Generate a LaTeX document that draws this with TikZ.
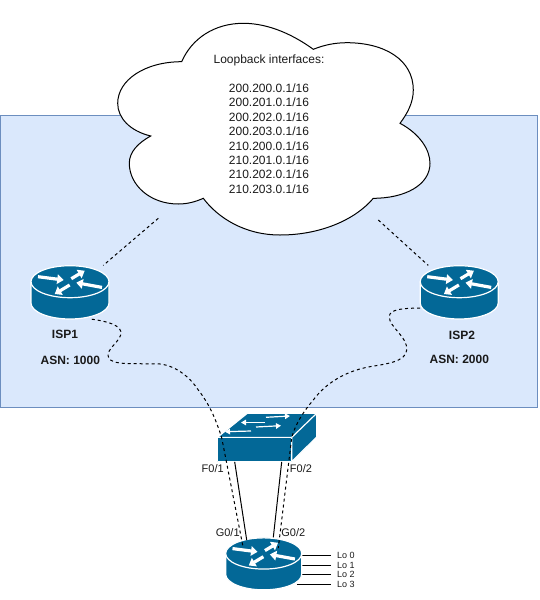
\documentclass[tikz,border=0pt]{standalone}
\usepackage{fontspec}
\setmainfont{Liberation Sans}
\usetikzlibrary{arrows.meta,calc}
\definecolor{Panel}{HTML}{DAE8FC}
\definecolor{PanelLine}{HTML}{6C8EBF}
\definecolor{Device}{HTML}{036897}
\definecolor{Ink}{HTML}{1A1A1A}

\begin{document}
\begin{tikzpicture}[x=1pt,y=-1pt,
      devbody/.style={fill=Device,draw=white,line width=1.2pt,line join=round},
      devarrow/.style={draw=white,line width=3.2pt,-{Triangle[length=6.5pt,width=9.5pt]}},
      thinarrow/.style={draw=white,line width=1.2pt,-{Triangle[length=5pt,width=5.5pt]}},
      routerbox/.style={minimum width=78pt,minimum height=53.4pt,inner sep=0pt},
      switchbox/.style={minimum width=99.4pt,minimum height=48.4pt,inner sep=0pt},
      link/.style={draw=black,line width=1pt,dash pattern=on 3pt off 3pt},
      isplabel/.style={font=\fontsize{12}{14}\selectfont\bfseries,text=Ink,inner sep=0pt},
      portlabel/.style={font=\fontsize{11}{13}\selectfont,text=Ink,inner sep=0pt},
      lolabel/.style={font=\fontsize{9}{11}\selectfont,text=Ink,inner sep=0pt,anchor=west},
      routerpic/.pic={
        \draw[devbody] (-39,-10.6) -- (-39,10.7) .. controls (-39,19.5) and (-21.5,26.7) .. (0,26.7)
          .. controls (21.5,26.7) and (39,19.5) .. (39,10.7) -- (39,-10.6) -- cycle;
        \draw[devbody] (0,-10.6) ellipse [x radius=39,y radius=16];
        \draw[devarrow] (-32,-15.6) -- (-6.3,-12.3);
        \draw[devarrow] (-0.3,-7.3) -- (-15.3,1.7);
        \draw[devarrow] (1.3,-13.6) -- (14.7,-21.6);
        \draw[devarrow] (32,-4.9) -- (6.3,-9.6);
      },
      switchpic/.pic={
        \draw[devbody] (-49.7,-0.1) -- (-19.7,-24.2) -- (49.7,-24.2) -- (49.7,-0.5) -- (24.7,24.2) -- (24.7,-0.1) -- cycle;
        \draw[devbody] (24.7,-0.1) -- (49.7,-24.2) -- (49.7,-0.5) -- (24.7,24.2) -- cycle;
        \draw[devbody] (-49.7,-0.1) rectangle (24.7,24.2);
        \draw[thinarrow] (-1,-20.2) -- (23,-21.5);
        \draw[thinarrow] (-2,-15) -- (-26,-15);
        \draw[thinarrow] (-11,-10.5) -- (14,-11.8);
        \draw[thinarrow] (-16,-6.5) -- (-42,-5.8);
      }]
    \useasboundingbox (0,0) rectangle (539,600);
    \fill[Panel,draw=PanelLine,line width=1pt] (0.5,115.3) rectangle (537.8,407);
    \draw[fill=white,draw=black,line width=1pt] (181.7,61.7) .. controls (192,38) and (215,23.3) .. (243.3,23.3)
      .. controls (270,23.3) and (295,36) .. (313.3,49.3)
      .. controls (324,45) and (335,42.7) .. (346.7,42.7)
      .. controls (385,42.7) and (413.3,60) .. (413.3,90)
      .. controls (413.3,103) and (407,114) .. (400,123.3)
      .. controls (420,134) and (430,150) .. (430,163.3)
      .. controls (430,185) and (405,198.3) .. (373.3,198.3)
      .. controls (355,220) and (320,235) .. (280,235)
      .. controls (245,235) and (218,218) .. (203.3,198.3)
      .. controls (195,202) and (187,204) .. (178.3,204)
      .. controls (150,204) and (129.3,185) .. (129.3,163.3)
      .. controls (129.3,152) and (138,143) .. (150.7,136)
      .. controls (130,131) and (117.7,118) .. (117.7,103.3)
      .. controls (117.7,80) and (145,61.7) .. (181.7,61.7) -- cycle;
    \node[align=center,text=Ink,inner sep=0pt,font=\fontsize{12}{14.4}\selectfont] (loop) at (269,124.3)
      {Loopback interfaces:\\[14.4pt]200.200.0.1/16\\200.201.0.1/16\\200.202.0.1/16\\200.203.0.1/16\\210.200.0.1/16\\210.201.0.1/16\\210.202.0.1/16\\210.203.0.1/16};
    \coordinate (cloudl) at (158.3,218.3);
    \coordinate (cloudr) at (378.3,220);
    \node[routerbox] (isp1) at (70,292.3) {};
    \node[routerbox] (isp2) at (459.2,292.3) {};
    \node[switchbox] (sw) at (267,437.5) {};
    \node[routerbox] (r3) at (263.7,563.8) {};
    \foreach \i/\y in {0/555,1/565,2/574.5,3/584.5}{
      \node[lolabel] (lo\i) at (337,\y) {Lo \i};
      \draw[line width=1pt] ([xshift=-6pt]r3.east |- lo\i.west) -- ([xshift=-6pt]lo\i.west);
    }
    \pic at (isp1) {routerpic};
    \pic at (isp2) {routerpic};
    \pic at (sw) {switchpic};
    \pic[scale=0.975] at (r3) {routerpic};
    \draw[link] (cloudl) -- (isp1.39);
    \draw[link] (cloudr) -- (isp2.139);
    \draw[line width=1pt] ([xshift=-32.3pt]sw.south) -- ([shift={(-17,-23.8)}]r3.center);
    \draw[line width=1pt] ([xshift=14.7pt]sw.south) -- ([shift={(9.6,-26.5)}]r3.center);
    \draw[link] (isp1.-51) .. controls (105,321) and (124,325) .. (120.7,335)
      .. controls (118,343) and (106,350) .. (108.3,356.7)
      .. controls (110,366) and (135,363) .. (160,364)
      .. controls (178,366) and (192,380) .. (198.3,390)
      .. controls (210,405) and (216,420) .. (221.7,437.7)
      -- ([shift={(-20.7,-17.1)}]r3.center);
    \draw[link] (isp2.202.7) .. controls (405,308) and (389,309) .. (389.3,316.7)
      .. controls (389,327) and (408,337) .. (406.7,350)
      .. controls (406,362) and (385,364) .. (370,366.7)
      .. controls (340,372) and (322,388) .. (313.3,400)
      .. controls (303,412) and (295,425) .. (291.7,437.7)
      -- ([shift={(14.6,-15.8)}]r3.center);
    \node[isplabel] (isp1name) at (65,334) {ISP1};
    \node[isplabel] (isp1asn) at (70.3,360) {ASN: 1000};
    \node[isplabel] (isp2name) at (462,335.5) {ISP2};
    \node[isplabel] (isp2asn) at (459.3,359.5) {ASN: 2000};
    \node[portlabel] (f01) at (212.7,468.7) {F0/1};
    \node[portlabel] (f02) at (301,468.7) {F0/2};
    \node[portlabel] (g01) at (227.7,532.3) {G0/1};
    \node[portlabel] (g02) at (293.3,532.3) {G0/2};
\end{tikzpicture}
\end{document}
